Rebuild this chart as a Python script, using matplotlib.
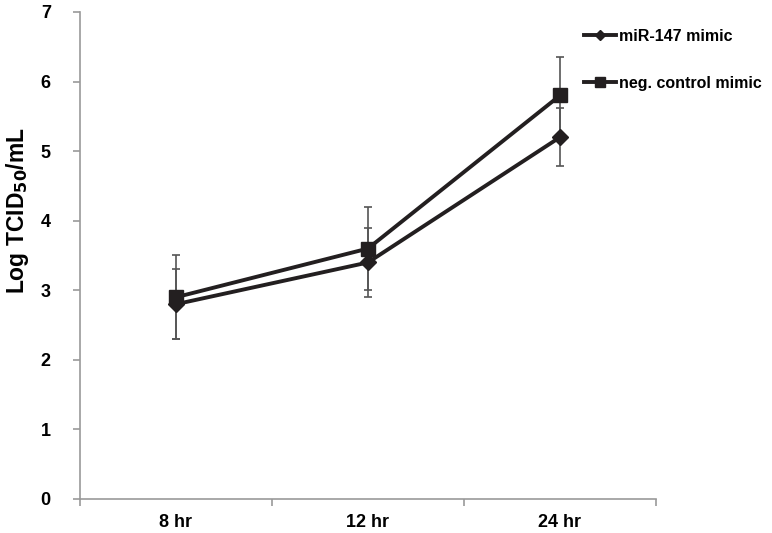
import matplotlib
matplotlib.use('Agg')
import matplotlib.pyplot as plt

# data
timepoints = ['8 hr', '12 hr', '24 hr']
mir147 = [2.8, 3.4, 5.2]
mir147_err = [0.5, 0.5, 0.42]
negctrl = [2.9, 3.6, 5.8]
negctrl_err = [0.6, 0.6, 0.55]
yticks = [0, 1, 2, 3, 4, 5, 6, 7]

plt.rcParams['font.family'] = ['Liberation Sans', 'DejaVu Sans']
plt.rcParams['font.weight'] = 'bold'

fig = plt.figure(figsize=(7.72, 5.33), dpi=100)
ax = fig.add_axes([0.1036, 0.0638, 0.7461, 0.9137])

x = list(range(len(timepoints)))
line_col = '#231f20'
err_col = '#555555'

# error bars first, then lines on top
ax.errorbar(x, mir147, yerr=mir147_err, fmt='none', ecolor=err_col,
            elinewidth=1.2, capsize=3.2, capthick=1.2, zorder=2)
ax.errorbar(x, negctrl, yerr=negctrl_err, fmt='none', ecolor=err_col,
            elinewidth=1.2, capsize=3.2, capthick=1.2, zorder=2)

ax.plot(x, mir147, color=line_col, lw=2.8, marker='D', markersize=8,
        label='miR-147 mimic', zorder=3)
ax.plot(x, negctrl, color=line_col, lw=2.8, marker='s', markersize=9.5,
        label='neg. control mimic', zorder=3)

ax.set_xlim(-0.5, len(timepoints) - 0.5)
ax.set_ylim(0, 7)
ax.set_yticks(yticks)
ax.set_xticks(x)
ax.set_xticklabels(timepoints)
ax.set_xticks([-0.5, 0.5, 1.5, 2.5], minor=True)

for side in ['top', 'right']:
    ax.spines[side].set_visible(False)
for side in ['left', 'bottom']:
    ax.spines[side].set_color('#999999')
    ax.spines[side].set_linewidth(1.2)

ax.tick_params(axis='y', length=5, width=1.2, color='#999999', labelsize=13, pad=16)
ax.tick_params(axis='x', which='major', length=0, labelsize=13, pad=11)
ax.tick_params(axis='x', which='minor', length=5, width=1.2, color='#999999')

ax.set_ylabel('Log TCID$_{\\mathbf{50}}$/mL', fontsize=16.5, fontweight='bold')
ax.yaxis.set_label_coords(-0.085, 0.593)

ax.legend(loc='upper left', bbox_to_anchor=(0.85, 0.995), frameon=False,
          fontsize=11.5, handlelength=2.0, labelspacing=2.0, handletextpad=0.2,
          markerscale=0.7)

fig.savefig('out.png', dpi=100)
